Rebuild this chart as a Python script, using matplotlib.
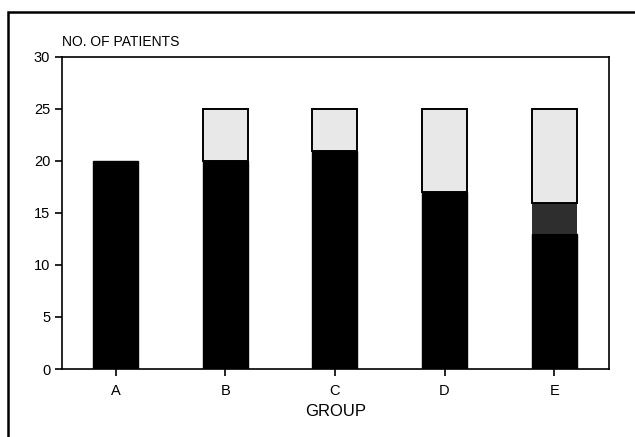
import matplotlib.pyplot as plt
from matplotlib.patches import Rectangle

plt.rcParams['font.family'] = ['Liberation Sans', 'DejaVu Sans']

# Patients per group, split into three stacked parts
groups = ['A', 'B', 'C', 'D', 'E']
black_part = [20, 20, 21, 17, 13]
dark_part = [0, 0, 0, 0, 3]
light_part = [0, 5, 4, 8, 9]
y_ticks = [0, 5, 10, 15, 20, 25, 30]

fig = plt.figure(figsize=(6.35, 4.37), dpi=100)
ax = fig.add_axes([0.0976, 0.1556, 0.8614, 0.714])

x = list(range(len(groups)))
w = 0.41

ax.bar(x, black_part, width=w, color='black', edgecolor='black', linewidth=1)
ax.bar(x, dark_part, width=w, bottom=black_part, color='#2e2e2e',
       edgecolor='none', linewidth=0)
light_bottom = [b + d for b, d in zip(black_part, dark_part)]
for xi, h, b in zip(x, light_part, light_bottom):
    if h > 0:
        ax.bar(xi, h, width=w, bottom=b, color='#e8e8e8', edgecolor='black',
               linewidth=1.4)

ax.set_xlim(-0.49, 4.5)
ax.set_ylim(0, 30)
ax.set_yticks(y_ticks)
ax.set_xticks(x)
ax.set_xticklabels(groups)
ax.tick_params(axis='both', direction='out', length=5, width=1.2,
               labelsize=10.5, colors='black')
ax.tick_params(axis='x', pad=6)
for s in ax.spines.values():
    s.set_linewidth(1.2)

ax.set_xlabel('GROUP', fontsize=12, labelpad=4)
ax.text(0.0, 1.025, 'NO. OF PATIENTS', transform=ax.transAxes,
        fontsize=10, ha='left', va='bottom')

# outer frame around the whole figure (right and bottom edges run off)
top = 1 - 12 / 437
fig.patches.append(Rectangle((8 / 635, -0.2), 1.2, top + 0.2,
                             transform=fig.transFigure, fill=False,
                             edgecolor='black', linewidth=1.8))

fig.savefig('out.png', dpi=100)
